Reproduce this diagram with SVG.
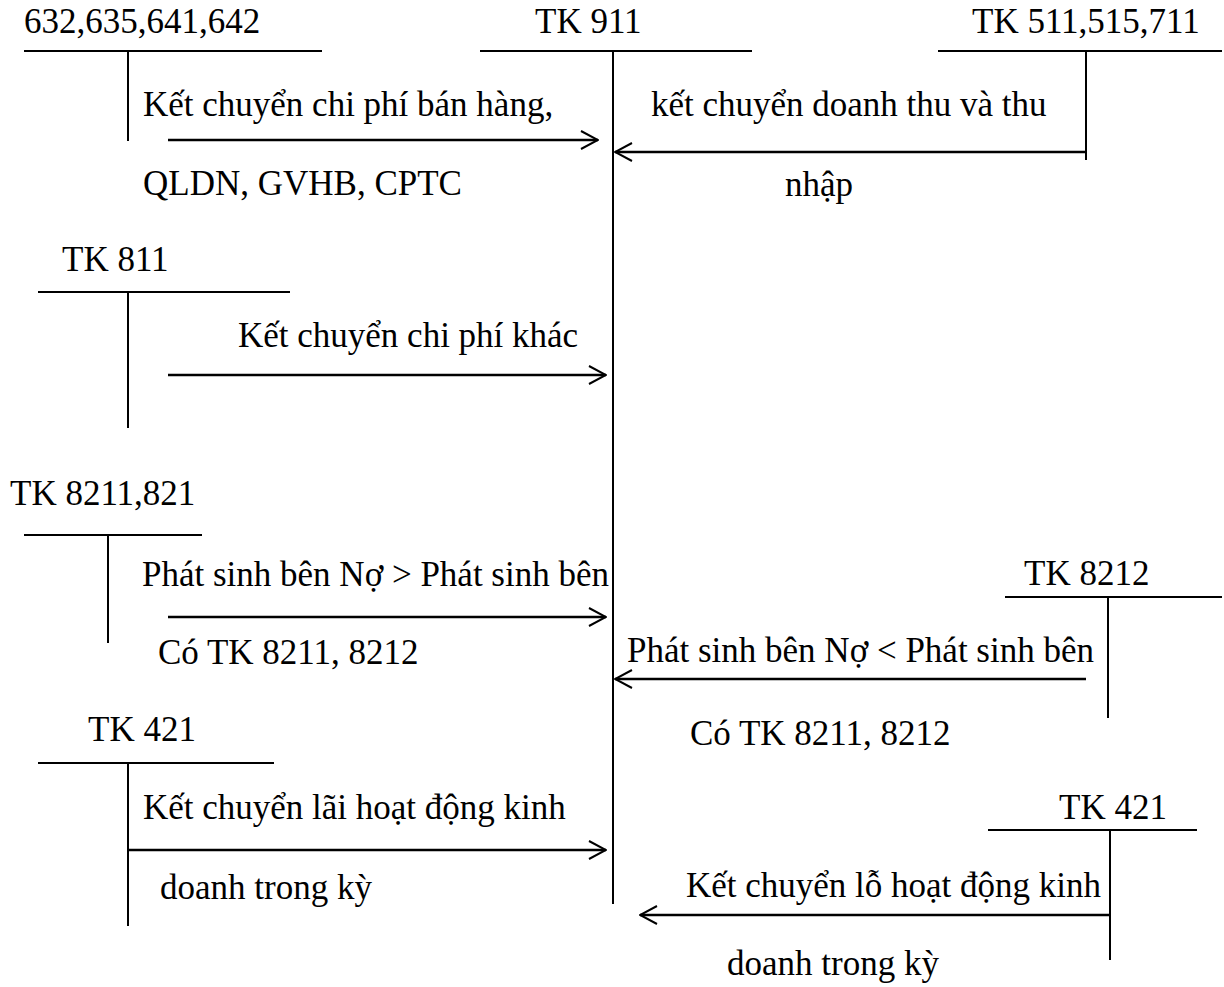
<svg xmlns="http://www.w3.org/2000/svg" width="1224" height="987" viewBox="0 0 1224 987">
<style>
text{font-family:"Liberation Serif","Times New Roman",serif;font-size:35px;fill:#000}
.t{stroke:#000;stroke-width:2;fill:none}
.a{stroke:#000;stroke-width:2.5;fill:none;marker-end:url(#ah)}
</style>
<defs>
<marker id="ah" viewBox="0 0 20 20" refX="19" refY="10" markerWidth="20" markerHeight="20" markerUnits="userSpaceOnUse" orient="auto">
<path d="M2,1 L19,10 L2,19" fill="none" stroke="#000" stroke-width="2"/>
</marker>
</defs>
<rect width="1224" height="987" fill="#fff"/>
<g id="tk632">
<text x="24" y="33">632,635,641,642</text>
<path class="t" d="M24,51 H322 M128,51 V141"/>
</g>
<g id="tk911">
<text x="535" y="33">TK 911</text>
<path class="t" d="M480,51 H752 M613,51 V904"/>
</g>
<g id="tk511">
<text x="972" y="33">TK 511,515,711</text>
<path class="t" d="M938,51 H1222 M1086,51 V160"/>
</g>
<g id="tk811">
<text x="62" y="271">TK 811</text>
<path class="t" d="M38,292 H290 M128,292 V428"/>
</g>
<g id="tk8211">
<text x="10" y="505">TK 8211,821</text>
<path class="t" d="M24,535 H202 M108,535 V643"/>
</g>
<g id="tk8212">
<text x="1024" y="585">TK 8212</text>
<path class="t" d="M1005,597 H1222 M1108,597 V718"/>
</g>
<g id="tk421a">
<text x="88" y="741">TK 421</text>
<path class="t" d="M38,763 H274 M128,763 V926"/>
</g>
<g id="tk421b">
<text x="1059" y="819">TK 421</text>
<path class="t" d="M988,830 H1197 M1110,830 V960"/>
</g>
<g id="connectors">
<line class="a" x1="168" y1="140" x2="598" y2="140"/>
<line class="a" x1="1086" y1="152" x2="615" y2="152"/>
<line class="a" x1="168" y1="375" x2="606" y2="375"/>
<line class="a" x1="168" y1="617" x2="606" y2="617"/>
<line class="a" x1="1086" y1="679" x2="615" y2="679"/>
<line class="a" x1="128" y1="850" x2="606" y2="850"/>
<line class="a" x1="1110" y1="915" x2="640" y2="915"/>
</g>
<g id="labels">
<text x="143" y="116">Kết chuyển chi phí bán hàng,</text>
<text x="143" y="195">QLDN, GVHB, CPTC</text>
<text x="651" y="116">kết chuyển doanh thu và thu</text>
<text x="785" y="196">nhập</text>
<text x="238" y="347">Kết chuyển chi phí khác</text>
<text x="142" y="586">Phát sinh bên Nợ &gt; Phát sinh bên</text>
<text x="158" y="664">Có TK 8211, 8212</text>
<text x="627" y="662">Phát sinh bên Nợ &lt; Phát sinh bên</text>
<text x="690" y="745">Có TK 8211, 8212</text>
<text x="143" y="819">Kết chuyển lãi hoạt động kinh</text>
<text x="160" y="899">doanh trong kỳ</text>
<text x="686" y="897">Kết chuyển lỗ hoạt động kinh</text>
<text x="727" y="975">doanh trong kỳ</text>
</g>
</svg>
